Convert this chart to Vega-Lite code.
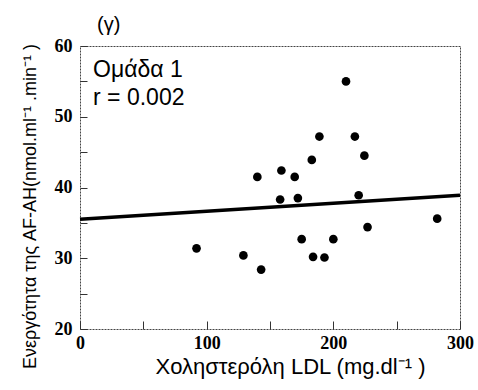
{
  "$schema": "https://vega.github.io/schema/vega-lite/v6.json",
  "width": 380,
  "height": 283,
  "autosize": "none",
  "padding": {"left": 80, "top": 46, "right": 18, "bottom": 61},
  "background": "white",
  "config": {
    "view": {"stroke": "#444", "strokeWidth": 1, "strokeDash": [2, 1]},
    "font": "Liberation Sans"
  },
  "datasets": {
    "points": [
      {"ldl": 92, "activity": 31.4},
      {"ldl": 129, "activity": 30.4},
      {"ldl": 143, "activity": 28.4},
      {"ldl": 140, "activity": 41.5},
      {"ldl": 159, "activity": 42.4},
      {"ldl": 158, "activity": 38.3},
      {"ldl": 169.5, "activity": 41.5},
      {"ldl": 172, "activity": 38.5},
      {"ldl": 175, "activity": 32.7},
      {"ldl": 183, "activity": 43.9},
      {"ldl": 184, "activity": 30.2},
      {"ldl": 189, "activity": 47.2},
      {"ldl": 193, "activity": 30.1},
      {"ldl": 200, "activity": 32.7},
      {"ldl": 210, "activity": 55.0},
      {"ldl": 217, "activity": 47.2},
      {"ldl": 220, "activity": 38.9},
      {"ldl": 224.5, "activity": 44.5},
      {"ldl": 227, "activity": 34.4},
      {"ldl": 282, "activity": 35.6}
    ],
    "fit": [
      {"ldl": 0, "activity": 35.5},
      {"ldl": 300, "activity": 38.9}
    ],
    "notes": [
      {"ldl": 10.3, "activity": 55.6, "label": "Ομάδα 1"},
      {"ldl": 10.3, "activity": 51.6, "label": "r = 0.002"}
    ],
    "panel": [
      {"ldl": 13.4, "activity": 62.1, "label": "(γ)"}
    ]
  },
  "encoding": {
    "x": {
      "field": "ldl",
      "type": "quantitative",
      "scale": {"domain": [0, 300], "nice": false, "zero": false},
      "axis": {
        "title": "Χοληστερόλη LDL (mg.dl⁻¹ )",
        "titleFont": "Liberation Sans",
        "titleFontSize": 22,
        "titleFontWeight": "normal",
        "titleColor": "black",
        "titleX": 210,
        "titleY": 44,
        "titleAlign": "center",
        "titleBaseline": "alphabetic",
        "values": [0, 50, 100, 150, 200, 250, 300],
        "labelExpr": "datum.value % 100 == 0 ? datum.label : ''",
        "labelFont": "Liberation Serif",
        "labelFontWeight": "bold",
        "labelFontSize": 18,
        "labelColor": "black",
        "labelPadding": 13,
        "labelFlush": false,
        "tickSize": -8,
        "tickColor": "#333",
        "domain": false,
        "grid": false
      }
    },
    "y": {
      "field": "activity",
      "type": "quantitative",
      "scale": {"domain": [20, 60], "nice": false, "zero": false},
      "axis": {
        "title": "Ενεργότητα της AF-AH(nmol.ml⁻¹ .min⁻¹ )",
        "titleFont": "Liberation Sans",
        "titleFontSize": 18,
        "titleFontWeight": "normal",
        "titleColor": "black",
        "titleX": -45,
        "titleY": 160,
        "titleAlign": "center",
        "titleBaseline": "alphabetic",
        "values": [20, 25, 30, 35, 40, 45, 50, 55, 60],
        "labelExpr": "datum.value % 10 == 0 ? datum.label : ''",
        "labelFont": "Liberation Serif",
        "labelFontWeight": "bold",
        "labelFontSize": 18,
        "labelColor": "black",
        "labelPadding": 15,
        "labelFlush": false,
        "tickSize": -7,
        "tickColor": "#333",
        "domain": false,
        "grid": false
      }
    }
  },
  "layer": [
    {
      "data": {"name": "fit"},
      "mark": {"type": "line", "color": "black", "strokeWidth": 3.5}
    },
    {
      "data": {"name": "points"},
      "mark": {"type": "circle", "color": "black", "opacity": 1, "size": 75}
    },
    {
      "data": {"name": "notes"},
      "mark": {"type": "text", "align": "left", "baseline": "alphabetic", "fontSize": 23, "font": "Liberation Sans", "color": "black"},
      "encoding": {"text": {"field": "label"}}
    },
    {
      "data": {"name": "panel"},
      "mark": {"type": "text", "align": "left", "baseline": "alphabetic", "fontSize": 20, "font": "Liberation Sans", "color": "black", "clip": false},
      "encoding": {"text": {"field": "label"}}
    }
  ]
}
